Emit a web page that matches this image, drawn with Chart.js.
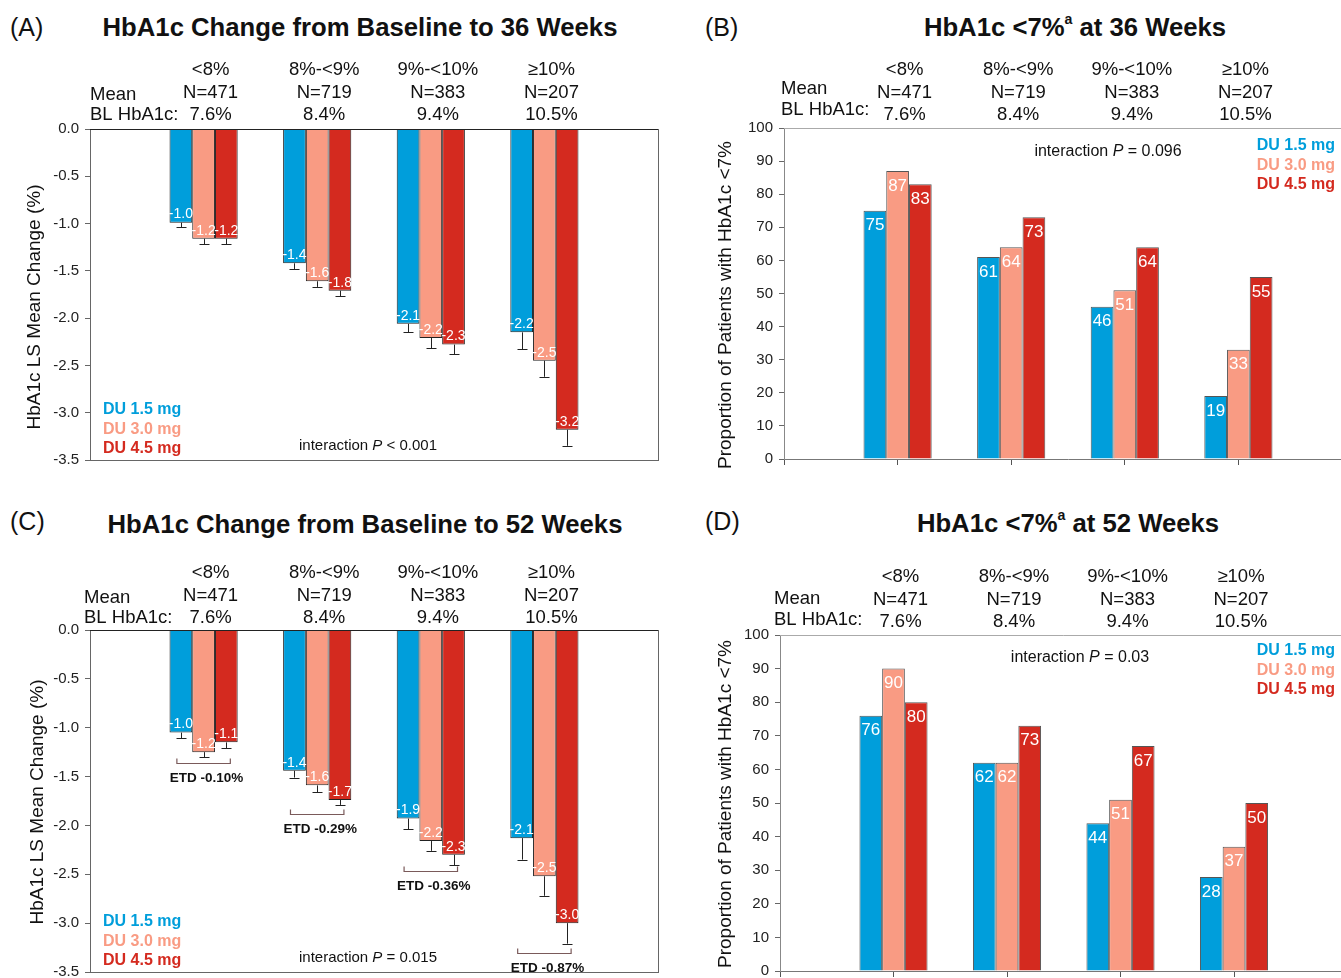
<!DOCTYPE html>
<html><head><meta charset="utf-8">
<script src="https://cdn.jsdelivr.net/npm/chart.js@4.4.0/dist/chart.umd.min.js"></script>
<style>
html,body{margin:0;padding:0;background:#fff;overflow:hidden;}
#wrap{position:relative;width:1341px;height:978px;overflow:hidden;background:#fff;font-family:"Liberation Sans",Arial,sans-serif;color:#111;}
.cv{position:absolute;}
.t{position:absolute;white-space:nowrap;transform:translate(-50%,-50%);font-weight:bold;font-size:25.7px;}
.p{position:absolute;white-space:nowrap;font-size:25px;transform:translateY(-50%);}
sup{font-size:0.55em;vertical-align:0.8em;line-height:0;}
</style></head><body><div id="wrap">
<div class="p" style="left:10px;top:27px">(A)</div>
<div class="t" style="left:360px;top:27px">HbA1c Change from Baseline to 36 Weeks</div>
<div class="p" style="left:705px;top:27px">(B)</div>
<div class="t" style="left:1075px;top:27px">HbA1c &lt;7%<sup>a</sup> at 36 Weeks</div>
<div class="p" style="left:10px;top:521px">(C)</div>
<div class="t" style="left:365px;top:524px">HbA1c Change from Baseline to 52 Weeks</div>
<div class="p" style="left:705px;top:521px">(D)</div>
<div class="t" style="left:1068px;top:523px">HbA1c &lt;7%<sup>a</sup> at 52 Weeks</div>
<canvas id="cA" class="cv" style="left:0px;top:0px;width:670px;height:490px" width="670" height="490"></canvas>
<canvas id="cB" class="cv" style="left:700px;top:0px;width:660px;height:490px" width="660" height="490"></canvas>
<canvas id="cC" class="cv" style="left:0px;top:500px;width:670px;height:490px" width="670" height="490"></canvas>
<canvas id="cD" class="cv" style="left:700px;top:500px;width:660px;height:490px" width="660" height="490"></canvas>
</div>
<script>
// ---------- data ----------
const categories = ['<8%', '8%-<9%', '9%-<10%', '≥10%'];
const nCounts = ['N=471', 'N=719', 'N=383', 'N=207'];
const baselineMeans = ['7.6%', '8.4%', '9.4%', '10.5%'];
const doses = ['DU 1.5 mg', 'DU 3.0 mg', 'DU 4.5 mg'];

// (A) HbA1c LS mean change, 36 weeks
const chg36_15 = [-0.99, -1.42, -2.06, -2.15];
const chg36_30 = [-1.16, -1.61, -2.21, -2.45];
const chg36_45 = [-1.16, -1.71, -2.28, -3.18];
const se36_15 = [0.05, 0.06, 0.09, 0.18];
const se36_30 = [0.06, 0.06, 0.11, 0.17];
const se36_45 = [0.06, 0.06, 0.10, 0.17];
const lbl36_15 = ['-1.0', '-1.4', '-2.1', '-2.2'];
const lbl36_30 = ['-1.2', '-1.6', '-2.2', '-2.5'];
const lbl36_45 = ['-1.2', '-1.8', '-2.3', '-3.2'];

// (C) HbA1c LS mean change, 52 weeks
const chg52_15 = [-1.05, -1.44, -1.93, -2.13];
const chg52_30 = [-1.25, -1.59, -2.16, -2.52];
const chg52_45 = [-1.15, -1.74, -2.30, -3.00];
const se52_15 = [0.06, 0.07, 0.11, 0.22];
const se52_30 = [0.05, 0.07, 0.10, 0.20];
const se52_45 = [0.06, 0.05, 0.11, 0.21];
const lbl52_15 = ['-1.0', '-1.4', '-1.9', '-2.1'];
const lbl52_30 = ['-1.2', '-1.6', '-2.2', '-2.5'];
const lbl52_45 = ['-1.1', '-1.7', '-2.3', '-3.0'];
const etdLabels = ['ETD -0.10%', 'ETD -0.29%', 'ETD -0.36%', 'ETD -0.87%'];
const etdLevels = [-1.36, -1.88, -2.47, -3.31];

// (B) proportion HbA1c <7% at 36 weeks
const pct36_15 = [75, 61, 46, 19];
const pct36_30 = [87, 64, 51, 33];
const pct36_45 = [83, 73, 64, 55];
// (D) proportion HbA1c <7% at 52 weeks
const pct52_15 = [76, 62, 44, 28];
const pct52_30 = [90, 62, 51, 37];
const pct52_45 = [80, 73, 67, 50];

const changeTicks = { min: -3.5, max: 0, step: 0.5 };
const pctTicks = { min: 0, max: 100, step: 10 };

const colors = ['#009EDB', '#F99B83', '#D42A1F'];
const FONT = '"Liberation Sans", Arial, sans-serif';

// ---------- helpers ----------
function drawPText(ctx, cx, cy, parts, size) {
  let total = 0;
  const ws = parts.map(p => { ctx.font = (p[1] ? 'italic ' : '') + size + 'px ' + FONT; const w = ctx.measureText(p[0]).width; total += w; return w; });
  let x = cx - total / 2;
  ctx.textAlign = 'left'; ctx.textBaseline = 'middle'; ctx.fillStyle = '#111';
  parts.forEach((p, i) => { ctx.font = (p[1] ? 'italic ' : '') + size + 'px ' + FONT; ctx.fillText(p[0], x, cy); x += ws[i]; });
}

function decor(o) {
  return {
    id: 'decor',
    afterDraw(chart) {
      const ctx = chart.ctx, ca = chart.chartArea;
      const xs = chart.scales.x, ys = chart.scales.y;
      ctx.save();
      // frame
      if (o.kind === 'change') {
        ctx.strokeStyle = '#666'; ctx.lineWidth = 1;
        ctx.strokeRect(Math.round(ca.left) + 0.5, Math.round(ca.top) + 0.5, Math.round(ca.right - ca.left), Math.round(ca.bottom - ca.top));
        ctx.strokeStyle = '#222';
        ctx.beginPath(); ctx.moveTo(ca.left, Math.round(ca.top) + 0.5); ctx.lineTo(ca.right, Math.round(ca.top) + 0.5); ctx.stroke();
      } else {
        ctx.strokeStyle = '#aaa'; ctx.lineWidth = 1;
        ctx.beginPath(); ctx.moveTo(ca.left, Math.round(ca.top) + 0.5); ctx.lineTo(ca.right, Math.round(ca.top) + 0.5); ctx.stroke();
      }
      // error bars and value labels
      o.series.forEach((s, i) => {
        const meta = chart.getDatasetMeta(i);
        s.forEach((v, j) => {
          const el = meta.data[j + 1];
          if (!el) return;
          if (o.se) {
            const y1 = ys.getPixelForValue(v - o.se[i][j]);
            const x = Math.round(el.x) + 0.5;
            ctx.strokeStyle = '#222'; ctx.lineWidth = 1;
            ctx.beginPath(); ctx.moveTo(x, el.y); ctx.lineTo(x, y1);
            ctx.moveTo(x - 5, Math.round(y1) + 0.5); ctx.lineTo(x + 5, Math.round(y1) + 0.5); ctx.stroke();
          }
          ctx.fillStyle = '#fff'; ctx.textAlign = 'center'; ctx.textBaseline = 'middle';
          if (o.kind === 'change') {
            ctx.font = '14px ' + FONT;
            ctx.fillText(o.labels[i][j], el.x, el.y - 8);
          } else {
            ctx.font = '17px ' + FONT;
            ctx.fillText(String(v), el.x, el.y + 15);
          }
        });
      });
      // ETD brackets
      if (o.etd) {
        const m0 = chart.getDatasetMeta(0), m2 = chart.getDatasetMeta(2);
        o.etd.levels.forEach((lv, j) => {
          const xa = m0.data[j + 1].x - 4, xb = m2.data[j + 1].x + 4;
          const y = Math.round(ys.getPixelForValue(lv)) + 0.5;
          ctx.strokeStyle = '#7a5a5a'; ctx.lineWidth = 1.2;
          ctx.beginPath(); ctx.moveTo(xa, y - 5); ctx.lineTo(xa, y); ctx.lineTo(xb, y); ctx.lineTo(xb, y - 5); ctx.stroke();
          ctx.fillStyle = '#111'; ctx.font = 'bold 13.5px ' + FONT; ctx.textAlign = 'center'; ctx.textBaseline = 'middle';
          ctx.fillText(o.etd.labels[j], xs.getPixelForValue(j + 1) + 3, y + 15);
        });
      }
      // header rows
      ctx.fillStyle = '#111'; ctx.font = '18.5px ' + FONT; ctx.textBaseline = 'middle';
      ctx.textAlign = 'left';
      ctx.fillText('Mean', o.hdrX, o.meanY);
      ctx.fillText('BL HbA1c:', o.hdrX, o.blY);
      ctx.textAlign = 'center';
      categories.forEach((c, j) => {
        const x = xs.getPixelForValue(j + 1) + 7;
        ctx.fillText(c, x, o.rows[0]);
        ctx.fillText(nCounts[j], x, o.rows[1]);
        ctx.fillText(baselineMeans[j], x, o.rows[2]);
      });
      // y title
      ctx.save();
      ctx.translate(o.yTitle[0], o.yTitle[1]); ctx.rotate(-Math.PI / 2);
      ctx.font = '19px ' + FONT; ctx.textAlign = 'center'; ctx.textBaseline = 'middle'; ctx.fillStyle = '#111';
      ctx.fillText(o.yTitle[2], 0, 0);
      ctx.restore();
      // legend
      ctx.font = 'bold 16px ' + FONT; ctx.textBaseline = 'middle';
      ctx.textAlign = o.legend.align;
      doses.forEach((d, i) => { ctx.fillStyle = colors[i]; ctx.fillText(d, o.legend.x, o.legend.ys[i]); });
      // interaction P
      drawPText(ctx, o.inter.x, o.inter.y, [['interaction ', false], ['P', true], [o.inter.text, false]], o.inter.size);
      ctx.restore();
    }
  };
}

function barChart(id, o) {
  const labels = ['', ...categories, ''];
  const pad = v => [null, ...v, null];
  const isChg = o.kind === 'change';
  return new Chart(document.getElementById(id), {
    type: 'bar',
    data: {
      labels,
      datasets: o.series.map((s, i) => ({
        label: doses[i], data: pad(s), backgroundColor: colors[i],
        borderColor: isChg ? '#222' : '#555', borderWidth: 1,
        categoryPercentage: 0.6, barPercentage: 1.0
      }))
    },
    options: {
      responsive: false, animation: false, events: [],
      layout: { padding: { top: o.padTop, right: o.padRight, left: 0, bottom: 0 } },
      plugins: { legend: { display: false }, tooltip: { enabled: false }, title: { display: false } },
      scales: {
        x: {
          type: 'category', offset: false,
          ticks: { display: false },
          grid: { display: !isChg, offset: false, drawOnChartArea: false, drawTicks: true, tickLength: 6, color: '#555' },
          border: { display: !isChg, color: '#777' },
          afterFit: s => { s.height = o.xH; }
        },
        y: {
          min: o.ticks.min, max: o.ticks.max,
          ticks: {
            stepSize: o.ticks.step, padding: 6, color: '#222',
            font: { family: FONT, size: 15 },
            callback: v => isChg ? Number(v).toFixed(1) : String(v)
          },
          grid: { drawOnChartArea: false, drawTicks: true, tickLength: 5, color: '#666' },
          border: { display: !isChg, color: '#888' },
          afterFit: s => { s.width = o.yW; }
        }
      }
    },
    plugins: [decor(o)]
  });
}

barChart('cA', {
  kind: 'change', ticks: changeTicks,
  series: [chg36_15, chg36_30, chg36_45], se: [se36_15, se36_30, se36_45],
  labels: [lbl36_15, lbl36_30, lbl36_45],
  padTop: 129, padRight: 12, yW: 90, xH: 30,
  hdrX: 90, meanY: 95, blY: 115, rows: [70, 93, 115],
  yTitle: [35, 307, 'HbA1c LS Mean Change (%)'],
  legend: { align: 'left', x: 103, ys: [410, 430, 449] },
  inter: { x: 368, y: 446, text: ' < 0.001', size: 15 }
});

barChart('cB', {
  kind: 'pct', ticks: pctTicks,
  series: [pct36_15, pct36_30, pct36_45],
  padTop: 128, padRight: 8, yW: 84, xH: 31,
  hdrX: 81, meanY: 89, blY: 110, rows: [70, 93, 115],
  yTitle: [26, 305, 'Proportion of Patients with HbA1c <7%'],
  legend: { align: 'right', x: 635, ys: [146, 166, 185] },
  inter: { x: 408, y: 152, text: ' = 0.096', size: 16 }
});

barChart('cC', {
  kind: 'change', ticks: changeTicks,
  series: [chg52_15, chg52_30, chg52_45], se: [se52_15, se52_30, se52_45],
  labels: [lbl52_15, lbl52_30, lbl52_45],
  etd: { labels: etdLabels, levels: etdLevels },
  padTop: 130, padRight: 12, yW: 90, xH: 18,
  hdrX: 84, meanY: 98, blY: 118, rows: [73, 96, 118],
  yTitle: [38, 302, 'HbA1c LS Mean Change (%)'],
  legend: { align: 'left', x: 103, ys: [422, 442, 461] },
  inter: { x: 368, y: 458, text: ' = 0.015', size: 15 }
});

barChart('cD', {
  kind: 'pct', ticks: pctTicks,
  series: [pct52_15, pct52_30, pct52_45],
  padTop: 135, padRight: 12.5, yW: 80, xH: 19,
  hdrX: 74, meanY: 99, blY: 120, rows: [77, 100, 122],
  yTitle: [26, 304, 'Proportion of Patients with HbA1c <7%'],
  legend: { align: 'right', x: 635, ys: [151, 171, 190] },
  inter: { x: 380, y: 158, text: ' = 0.03', size: 16 }
});
</script>
</body></html>
